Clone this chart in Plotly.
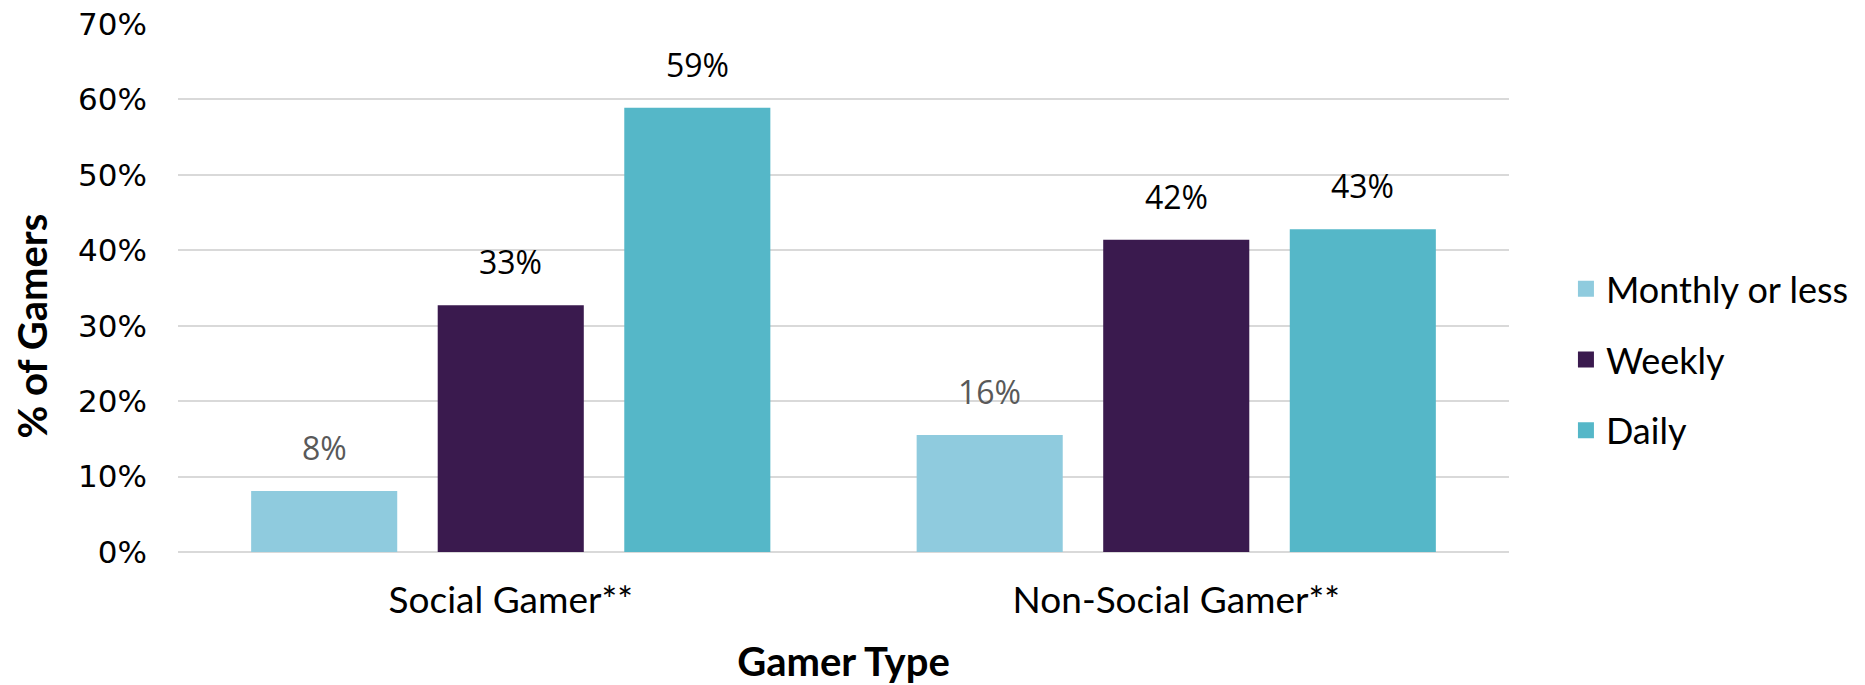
import plotly.graph_objects as go

categories = ["Social Gamer**", "Non-Social Gamer**"]
series_names = ["Monthly or less", "Weekly", "Daily"]
monthly = [8.1, 15.5]
weekly = [32.7, 41.4]
daily = [58.9, 42.8]
monthly_labels = ["8%", "16%"]
weekly_labels = ["33%", "42%"]
daily_labels = ["59%", "43%"]
y_ticks = [0, 10, 20, 30, 40, 50, 60, 70]
y_tick_labels = ["0%", "10%", "20%", "30%", "40%", "50%", "60%", "70%"]

colors = ["#8FCBDE", "#3A1A4E", "#55B7C8"]
label_colors = ["#595959", "#000000", "#000000"]
values = [monthly, weekly, daily]
labels = [monthly_labels, weekly_labels, daily_labels]

BARGAP = 0.159
BARGROUPGAP = 0.217

fig = go.Figure()
xs = list(range(len(categories)))
for j, name in enumerate(series_names):
    fig.add_trace(go.Bar(
        x=xs, y=values[j], name=name, marker_color=colors[j],
        marker_line_width=0, legendgroup=name, showlegend=False,
        hoverinfo="skip",
    ))
# legend entries with larger square swatches
for j, name in enumerate(series_names):
    fig.add_trace(go.Scatter(
        x=[None], y=[None], mode="markers", name=name, legendgroup=name,
        marker=dict(symbol="square", size=16, color=colors[j], line_width=0),
        showlegend=True, hoverinfo="skip",
    ))

# data labels placed over each bar using the same group geometry as the bars
n = len(series_names)
slot = (1 - BARGAP) / n
for j in range(n):
    for i in xs:
        fig.add_annotation(
            x=i + (j - (n - 1) / 2) * slot, y=values[j][i],
            xref="x", yref="y", text=labels[j][i], showarrow=False,
            yanchor="bottom", yshift=20,
            font=dict(family="Open Sans", size=32, color=label_colors[j]),
        )

# y-axis title (sits slightly below the axis midpoint in the original)
fig.add_annotation(
    x=-0.11, y=0.428, xref="paper", yref="paper", textangle=-90,
    text="<b>% of Gamers</b>", showarrow=False,
    xanchor="center", yanchor="middle",
    font=dict(family="Lato", size=40, color="#000000"),
)

fig.update_layout(
    width=1865, height=685,
    margin=dict(l=178, r=355, t=24, b=133),
    paper_bgcolor="white", plot_bgcolor="white",
    barmode="group", bargap=BARGAP, bargroupgap=BARGROUPGAP,
    legend=dict(
        x=1.042, xanchor="left", y=0.364, yanchor="middle",
        font=dict(family="Lato", size=36, color="#000000"),
        tracegroupgap=21, traceorder="grouped",
    ),
    showlegend=True,
)
fig.update_yaxes(
    range=[0, 70], tickvals=y_ticks, ticktext=y_tick_labels,
    showgrid=True, gridcolor="#D9D9D9", gridwidth=2,
    zeroline=True, zerolinecolor="#D9D9D9", zerolinewidth=2,
    tickfont=dict(family="DejaVu Sans", size=31, color="#000000"),
    ticklabelstandoff=30, automargin=False,
    fixedrange=True,
)
fig.update_xaxes(
    tickvals=xs, ticktext=categories, range=[-0.5, 1.5],
    showgrid=False, zeroline=False, showline=False,
    tickfont=dict(family="Lato", size=37, color="#000000"),
    ticklabelstandoff=23, automargin=False,
    title=dict(text="<b>Gamer Type</b>", standoff=28,
               font=dict(family="Lato", size=40, color="#000000")),
    fixedrange=True,
)

fig.write_html("out.html", config={"displayModeBar": False})
